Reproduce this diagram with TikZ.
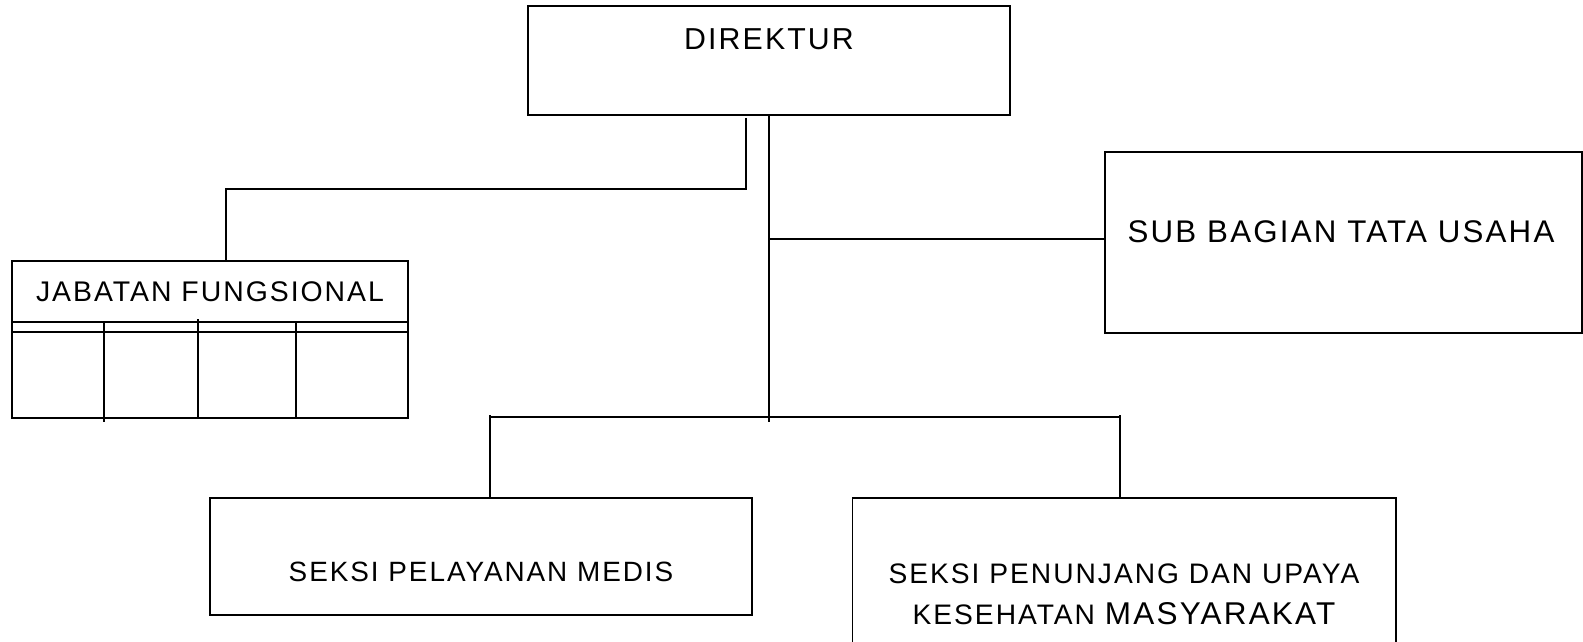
\documentclass[tikz,border=0pt]{standalone}
\usepackage{fontspec}
\setmainfont[LetterSpace=7]{Liberation Sans}
\tikzset{
	unit box/.style={draw, rectangle, line width=1.8pt, inner sep=0pt},
	unit text/.style={inner sep=0pt, align=center, font=\fontsize{#1}{#1}\selectfont},
	org line/.style={line width=1.8pt}
}
\begin{document}
\begin{tikzpicture}[x=1pt, y=-1pt]
	\useasboundingbox (0,0) rectangle (1583,642);
	\clip (0,0) rectangle (1583,642);

	% boxes
	\node [unit box, minimum width=482.3pt, minimum height=109pt] (dir) at (768.85, 60.5) {};
	\node [unit box, minimum width=395.4pt, minimum height=157.6pt] (jf) at (210, 339.5) {};
	\node [unit box, minimum width=476.7pt, minimum height=181pt] (sbt) at (1343.65, 242.2) {};
	\node [unit box, minimum width=542pt, minimum height=117.3pt] (spm) at (481, 556.35) {};
	\node [unit box, minimum width=543.5pt, minimum height=167.3pt] (spu) at (1124.25, 581.35) {};

	\node [unit text=30.3] (dirtext) at (769, 39) {DIREKTUR};
	\node [unit text=28.4] (jftext) at (210, 291.7) {JABATAN FUNGSIONAL};
	\node [unit text=31.3] (sbttext) at (1341, 231.5) {SUB BAGIAN TATA USAHA};
	\node [unit text=27.9] (spmtext) at (481, 572) {SEKSI PELAYANAN MEDIS};
	\node [unit text=28.2, font=\fontsize{28.2}{41}\selectfont] (sputext) at (1124, 594)
		{SEKSI PENUNJANG DAN UPAYA\\KESEHATAN {\fontsize{31.5}{41}\selectfont MASYARAKAT}};

	% table under jabatan fungsional
	\foreach\y in {321.7, 332.3}{
		\draw [org line] (jf.west |- 0,\y) -- (jf.east |- 0,\y);
	}
	\foreach\x/\top/\bottom in {104/322/422, 197.7/319/418.3, 295.7/322/418.3}{
		\draw [org line] (\x, \top) -- (\x, \bottom);
	}

	\coordinate (jfbend) at (746, 189.3);
	\coordinate (hub) at (769, 421.7);
	\coordinate (sbtjoin) at (769, 239);
	\coordinate (busl) at (490, 416.7);
	\coordinate (busr) at (1120, 416.7);

	\draw [org line] ([yshift=-2pt]dir.south -| jfbend) -- (jfbend) -| ([xshift=15.7pt]jf.north);
	\draw [org line] (dir.south) -- (dir.south |- hub);
	\draw [org line] (sbtjoin) -- (sbtjoin -| sbt.west);
	\draw [org line] (busl) -- (busr);
	\draw [org line] ([yshift=1.5pt]busl) -- (busl |- spm.north);
	\draw [org line] ([yshift=1.5pt]busr) -- (busr |- spu.north);
\end{tikzpicture}
\end{document}
